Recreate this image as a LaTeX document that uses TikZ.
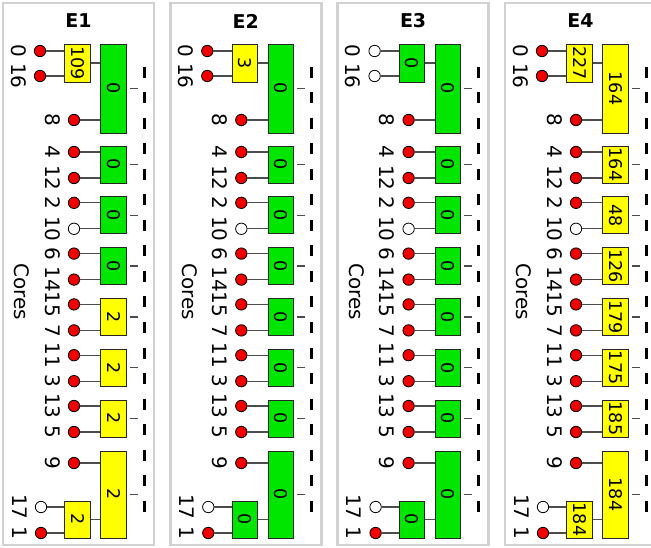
\documentclass[tikz,border=0pt]{standalone}
\usepackage{fontspec}
\setmainfont{DejaVu Sans}
\definecolor{grn}{RGB}{0,230,0}
\definecolor{ylw}{RGB}{255,255,0}
\definecolor{rdot}{RGB}{240,0,0}
\tikzset{
  panelframe/.style={draw=black!18, line width=2.6pt},
  titlefont/.style={font=\bfseries\fontsize{19}{19}\selectfont, inner sep=0pt},
  core/.style={circle, draw=black, line width=0.8pt, minimum size=11.4pt, inner sep=0pt},
  on/.style={core, fill=rdot},
  off/.style={core, fill=white},
  grp/.style={draw=black!85, line width=0.9pt, minimum width=25.5pt, inner sep=0pt,
              font=\fontsize{17.5}{17.5}\selectfont},
  lbl/.style={rotate=-90, inner sep=0pt, font=\fontsize{20}{20}\selectfont},
  wire/.style={draw=black!70, line width=1.3pt},
  tickline/.style={draw=black!70, line width=1.2pt},
  axisline/.style={draw=black, line width=3pt, dash pattern=on 11pt off 14.5pt},
}
\newcommand\drawpanel[9]{%
  % #1 prefix, #2 title, #3 style of dots 0/16, #4/#5 top small fill/value,
  % #6/#7 top big fill/value, #8 pairs, #9 bottom group
  \draw[panelframe] (3,3) rectangle (154,545);
  \node[titlefont] (#1t) at (78.5,21) {#2};
  \node[lbl, font=\fontsize{20}{20}\selectfont] (#1cores) at (22,291.5) {Cores};
  % axis
  \coordinate (#1ax0) at (144,67);
  \coordinate (#1ax1) at (144,513);
  \draw[axisline] (#1ax0) -- (#1ax1);
  % top group
  \node[#3] (#1d0) at (40,51) {};
  \node[#3] (#1d16) at (40,76) {};
  \node[on] (#1d8) at (74,120) {};
  \node[grp, fill=#4, minimum height=38pt] (#1ts) at (77.5,63) {\rotatebox{-90}{#5}};
  \node[grp, fill=#6, minimum height=89pt] (#1tb) at (113.5,88.5) {\rotatebox{-90}{#7}};
  \draw[wire] (#1d0.east) -- (#1d0 -| #1ts.west);
  \draw[wire] (#1d16.east) -- (#1d16 -| #1ts.west);
  \draw[wire] (#1ts.east) -- (#1ts.east -| #1tb.west);
  \draw[wire] (#1d8.east) -- (#1d8 -| #1tb.west);
  \draw[tickline] ([xshift=3pt]#1tb.east) -- ([xshift=11pt]#1tb.east);
  \node[lbl] (#1l0) at ([xshift=-21.5pt]#1d0.center) {0};
  \node[lbl] (#1l16) at ([xshift=-21.5pt]#1d16.center) {16};
  \node[lbl] (#1l8) at ([xshift=-21.5pt]#1d8.center) {8};
  % pairs
  \foreach \cf/\cv/\ca/\cb/\cs [count=\i from 0] in {#8} {
    \pgfmathsetmacro\yt{146+50.8*\i}
    \node[on] (#1pa\i) at (74,\yt+6) {};
    \node[\cs] (#1pb\i) at (74,\yt+32) {};
    \node[grp, fill=\cf, minimum height=37pt] (#1pg\i) at (113.5,\yt+18.5) {\rotatebox{-90}{\cv}};
    \draw[wire] (#1pa\i.east) -- (#1pa\i -| #1pg\i.west);
    \draw[wire] (#1pb\i.east) -- (#1pb\i -| #1pg\i.west);
    \draw[tickline] ([xshift=3pt]#1pg\i.east) -- ([xshift=11pt]#1pg\i.east);
    \node[lbl] (#1pla\i) at ([xshift=-21.5pt]#1pa\i.center) {\ca};
    \node[lbl] (#1plb\i) at ([xshift=-21.5pt]#1pb\i.center) {\cb};
  }
  % bottom group
  \foreach \bf/\bv/\sf/\sv in {#9} {
    \node[on] (#1d9) at (74,463) {};
    \node[off] (#1d17) at (41,507) {};
    \node[on] (#1d1) at (41,533) {};
    \node[grp, fill=\bf, minimum height=87pt] (#1bb) at (113.5,494.5) {\rotatebox{-90}{\bv}};
    \node[grp, fill=\sf, minimum height=37pt] (#1bs) at (77.5,519.5) {\rotatebox{-90}{\sv}};
    \draw[wire] (#1d9.east) -- (#1d9 -| #1bb.west);
    \draw[wire] (#1d17.east) -- (#1d17 -| #1bs.west);
    \draw[wire] (#1d1.east) -- (#1d1 -| #1bs.west);
    \draw[wire] (#1bs.east) -- (#1bs.east -| #1bb.west);
    \draw[tickline] ([xshift=3pt]#1bb.east) -- ([xshift=11pt]#1bb.east);
    \node[lbl] (#1l9) at ([xshift=-21.5pt]#1d9.center) {9};
    \node[lbl] (#1l17) at ([xshift=-21.5pt]#1d17.center) {17};
    \node[lbl] (#1l1) at ([xshift=-21.5pt]#1d1.center) {1};
  }
}
\begin{document}
\begin{tikzpicture}[x=1pt,y=-1pt]
  \useasboundingbox (0,0) rectangle (651,548);
  \clip (0,0) rectangle (651,548);
  \fill[white] (0,0) rectangle (651,548);
  \begin{scope}
    \drawpanel{a}{E1}{on}{ylw}{109}{grn}{0}
      {grn/0/4/12/on, grn/0/2/10/off, grn/0/6/14/on, ylw/2/15/7/on, ylw/2/11/3/on, ylw/2/13/5/on}
      {ylw/2/ylw/2}
  \end{scope}
  \begin{scope}[xshift=167.3pt]
    \drawpanel{b}{E2}{on}{ylw}{3}{grn}{0}
      {grn/0/4/12/on, grn/0/2/10/off, grn/0/6/14/on, grn/0/15/7/on, grn/0/11/3/on, grn/0/13/5/on}
      {grn/0/grn/0}
  \end{scope}
  \begin{scope}[xshift=334.6pt]
    \drawpanel{c}{E3}{off}{grn}{0}{grn}{0}
      {grn/0/4/12/on, grn/0/2/10/off, grn/0/6/14/on, grn/0/15/7/on, grn/0/11/3/on, grn/0/13/5/on}
      {grn/0/grn/0}
  \end{scope}
  \begin{scope}[xshift=502pt]
    \drawpanel{d}{E4}{on}{ylw}{227}{ylw}{164}
      {ylw/164/4/12/on, ylw/48/2/10/off, ylw/126/6/14/on, ylw/179/15/7/on, ylw/175/11/3/on, ylw/185/13/5/on}
      {ylw/184/ylw/184}
  \end{scope}
\end{tikzpicture}
\end{document}
